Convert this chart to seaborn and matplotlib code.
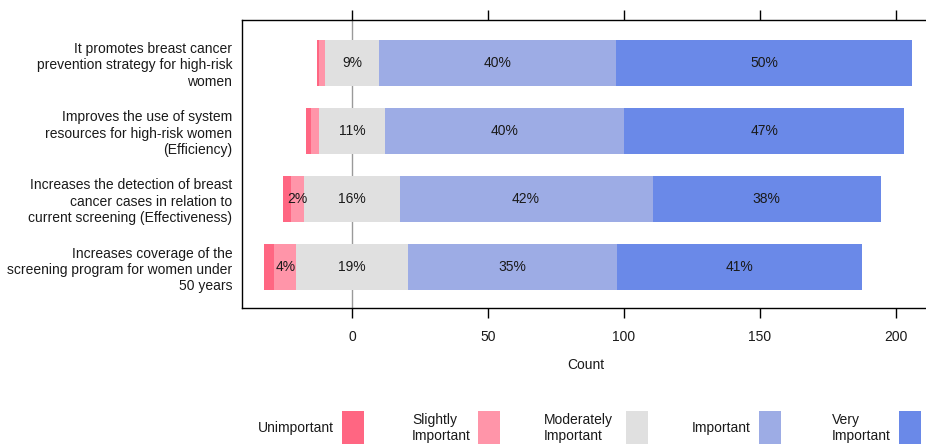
import matplotlib
matplotlib.use("Agg")
import matplotlib.pyplot as plt
from matplotlib.patches import Rectangle
import seaborn as sns
import pandas as pd
import numpy as np

categories = [
    "It promotes breast cancer\nprevention strategy for high-risk\nwomen",
    "Improves the use of system\nresources for high-risk women\n(Efficiency)",
    "Increases the detection of breast\ncancer cases in relation to\ncurrent screening (Effectiveness)",
    "Increases coverage of the\nscreening program for women under\n50 years",
]
levels = ["Unimportant", "Slightly\nImportant", "Moderately\nImportant", "Important", "Very\nImportant"]
unimportant = [1, 2, 3, 4]
slightly = [2, 3, 5, 8]
moderately = [20, 24, 35, 41]
important = [87, 88, 93, 77]
very = [109, 103, 84, 90]
xticks = [0, 50, 100, 150, 200]

colors = ["#FF6682", "#FF95A9", "#E0E0E0", "#9DACE5", "#6A89E8"]

sns.set_style("ticks")
plt.rcParams["font.family"] = ["Liberation Sans", "DejaVu Sans"]

u = np.array(unimportant, float)
s = np.array(slightly, float)
m = np.array(moderately, float)
im = np.array(important, float)
v = np.array(very, float)
total = u + s + m + im + v

fig = plt.figure(figsize=(9.26, 4.44), dpi=100)
ax = fig.add_axes([242 / 926, 1 - 308 / 444, (930 - 242) / 926, 288 / 444])

ax.axvline(0, color="#9a9a9a", lw=1.0, zorder=0)

# segment boundaries
right_very = m / 2 + im + v
right_imp = m / 2 + im
right_mod = m / 2
left_un = -(m / 2 + s + u)
left_sl = -(m / 2 + s)
left_mod = -(m / 2)

layers = [
    (right_very, colors[4]),
    (right_imp, colors[3]),
    (right_mod, colors[2]),
    (left_un, colors[0]),
    (left_sl, colors[1]),
    (left_mod, colors[2]),
]
for vals, col in layers:
    df = pd.DataFrame({"category": categories, "value": vals})
    sns.barplot(data=df, x="value", y="category", order=categories, color=col,
                width=0.68, linewidth=0, orient="h", errorbar=None, ax=ax,
                zorder=2, saturation=1)

# percent labels
starts = [left_un, left_sl, left_mod, right_mod, right_imp]
ends = [left_sl, left_mod, right_mod, right_imp, right_very]
counts = [u, s, m, im, v]
for k in range(5):
    for i in range(len(categories)):
        frac = counts[k][i] / total[i]
        if frac >= 0.02:
            cx = (starts[k][i] + ends[k][i]) / 2
            ax.text(cx, i, f"{round(frac * 100):.0f}%", ha="center", va="center",
                    fontsize=10, color="#1a1a1a", zorder=5)

ax.set_xlim((242 - 352) / 2.72, (930 - 352) / 2.72)
ax.set_ylim(3.6, -0.63)
ax.set_xticks(xticks)
ax.set_xticklabels([str(t) for t in xticks])
ax.tick_params(axis="x", which="both", top=True, bottom=True, direction="out",
               length=7, width=1, color="black", labelsize=10, pad=9, labelcolor="#1a1a1a")
ax.tick_params(axis="y", length=0, pad=7, labelsize=10, labelcolor="#1a1a1a")
for lbl in ax.get_yticklabels():
    lbl.set_multialignment("right")
ax.set_ylabel("")
ax.set_xlabel("Count", fontsize=10, labelpad=10, color="#1a1a1a")
for sp in ax.spines.values():
    sp.set_visible(True)
    sp.set_color("black")
    sp.set_linewidth(1)
ax.grid(False)

# legend
swatch_x = [342, 478, 626, 759, 899]
text_x = [258, 412, 544, 692, 832]
for lab, col, sx, tx in zip(levels, colors, swatch_x, text_x):
    fig.patches.append(Rectangle((sx / 926, 0), 22 / 926, (444 - 411) / 444,
                                 transform=fig.transFigure, facecolor=col,
                                 edgecolor="none", figure=fig))
    fig.text(tx / 926, 1 - 428 / 444, lab, ha="left", va="center", fontsize=10,
             color="#1a1a1a", linespacing=1.2)

fig.savefig("out.png", dpi=100)
